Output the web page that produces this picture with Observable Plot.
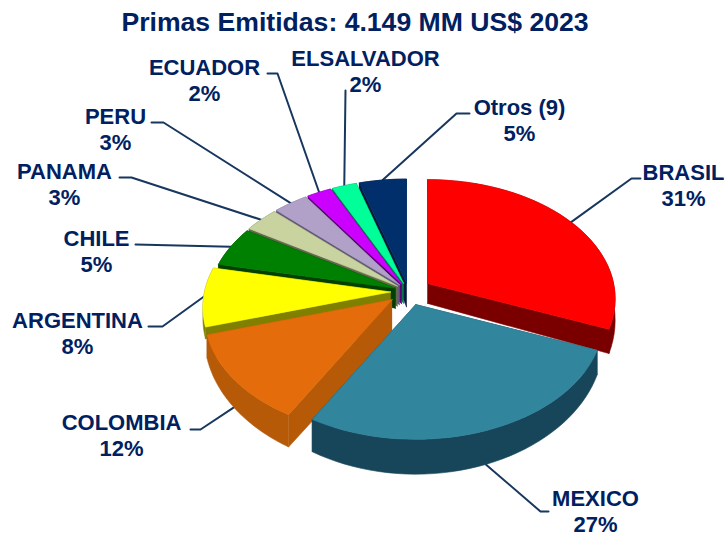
<!DOCTYPE html>
<html><head><meta charset="utf-8">
<style>
html,body{margin:0;padding:0;background:#fff;overflow:hidden}
#title{height:45px;text-align:center;font:bold 26.6px/44px "Liberation Sans",Arial,sans-serif;color:#002060;width:710px}
svg{display:block}
</style>
<script src="https://cdn.jsdelivr.net/npm/d3@7"></script>
<script src="https://cdn.jsdelivr.net/npm/@observablehq/plot@0.6"></script>
</head><body>
<div id="title">Primas Emitidas: 4.149 MM US$ 2023</div>
<div id="chart"></div>
<script>
// data
const countries = ["BRASIL","MEXICO","COLOMBIA","ARGENTINA","CHILE","PANAMA","PERU","ECUADOR","ELSALVADOR","Otros (9)"];
const shares    = [31.0,27.1,12.1,8.0,5.4,3.4,3.4,2.4,2.4,4.6];
// styling
const topColors  = ["#ff0000","#31859c","#e46c0a","#ffff00","#008000","#c8d3a0","#b1a0c7","#cc00ff","#00ff99","#002f6c"];
const wallColors = ["#7a0000","#17465a","#b65a08","#808000","#004000","#626a4c","#625a78","#5c0078","#007a4c","#001a3c"];
const explode    = [23,22,21,18,14,14,14,14,14,14];
const rimFactor  = [1,1,1,0.5,0.5,0.5,0.5,0.5,0.5,0.5];
const apexDepth  = [20,20,34,20,20,20,20,20,20,24];
// label layout, in page pixels
const labelX = [683,595,121,77,96,64,115,204,365,519];
const labelY = [184,510,434,332,250,183,128,79,70,119];
const elbowA = [[631,178],[540,511],[200,429],[162,326],[135,244],[131,177],[163,122],[277,73],[345,90],[456,113]];
const elbowB = [[640,178],[548,511],[190,429],[148,326],[135,244],[119,177],[151,122],[267,73],[345,90],[469,113]];

// pie geometry
const cx = 408, cy = 291, R = 186, k = 0.63, p = 0.13, D = 20;
const rad = a => a * Math.PI / 180;
const total = d3.sum(shares);
const scaleAt = v => 1 / (1 - p * v);
function project(apex, a, f = 1) {
  const u = Math.sin(rad(a)), v = -Math.cos(rad(a)), s = scaleAt(v);
  return {x: apex.x + R * u * s, y: apex.y + R * k * v * s, d: f * D * s ** 4};
}
let acc = 0;
const slices = countries.map((name, i) => {
  const a0 = acc / total * 360; acc += shares[i]; const a1 = acc / total * 360;
  const mid = (a0 + a1) / 2;
  const e = explode[i];
  const apex = {x: cx + e * Math.sin(rad(mid)), y: cy - e * k * Math.cos(rad(mid))};
  const arc = d3.range(0, 41).map(j => project(apex, a0 + (a1 - a0) * j / 40, rimFactor[i]));
  return {name, i, a0, a1, mid, apex, arc};
});
const order = d3.sort(slices, s => -Math.cos(rad(s.mid)));
const polys = [];
for (const s of order) {
  const ap = {x: s.apex.x, y: s.apex.y, d: apexDepth[s.i]};
  const low = q => ({x: q.x, y: q.y + q.d});
  const first = s.arc[0], last = s.arc[s.arc.length - 1];
  polys.push({pts: [ap, first, low(first), low(ap)], c: wallColors[s.i]});
  polys.push({pts: [ap, last, low(last), low(ap)], c: wallColors[s.i]});
  polys.push({pts: [...s.arc, ...s.arc.map(low).reverse()], c: wallColors[s.i]});
  polys.push({pts: [ap, ...s.arc, ap], c: topColors[s.i]});
}
const leaders = slices.map((s, i) => {
  const q = project(s.apex, s.mid);
  const front = Math.cos(rad(s.mid)) < -0.3;
  return {pts: [{x: q.x, y: q.y + (front ? q.d : 0)}, {x: elbowA[i][0], y: elbowA[i][1]}, {x: elbowB[i][0], y: elbowB[i][1]}]};
});
const labels = countries.map((name, i) => ({name: name + "\n" + Math.round(shares[i]) + "%", x: labelX[i], y: labelY[i]}));

const chart = Plot.plot({
  width: 724, height: 492, margin: 0,
  x: {domain: [0, 724], range: [0, 724], axis: null},
  y: {domain: [45, 537], range: [0, 492], axis: null},
  marks: [
    ...leaders.map(l => Plot.line(l.pts, {x: "x", y: "y", stroke: "#17375e", strokeWidth: 2, curve: "linear"})),
    ...polys.map(q => Plot.line(q.pts, {x: "x", y: "y", fill: q.c, stroke: q.c, strokeWidth: 0.6, curve: "linear"})),
    Plot.text(labels, {x: "x", y: "y", text: "name", fill: "#002060", fontSize: 22, fontWeight: "bold",
      fontFamily: "Liberation Sans, Arial, sans-serif", lineHeight: 1.2})
  ]
});
document.getElementById("chart").appendChild(chart);
</script>
</body></html>
